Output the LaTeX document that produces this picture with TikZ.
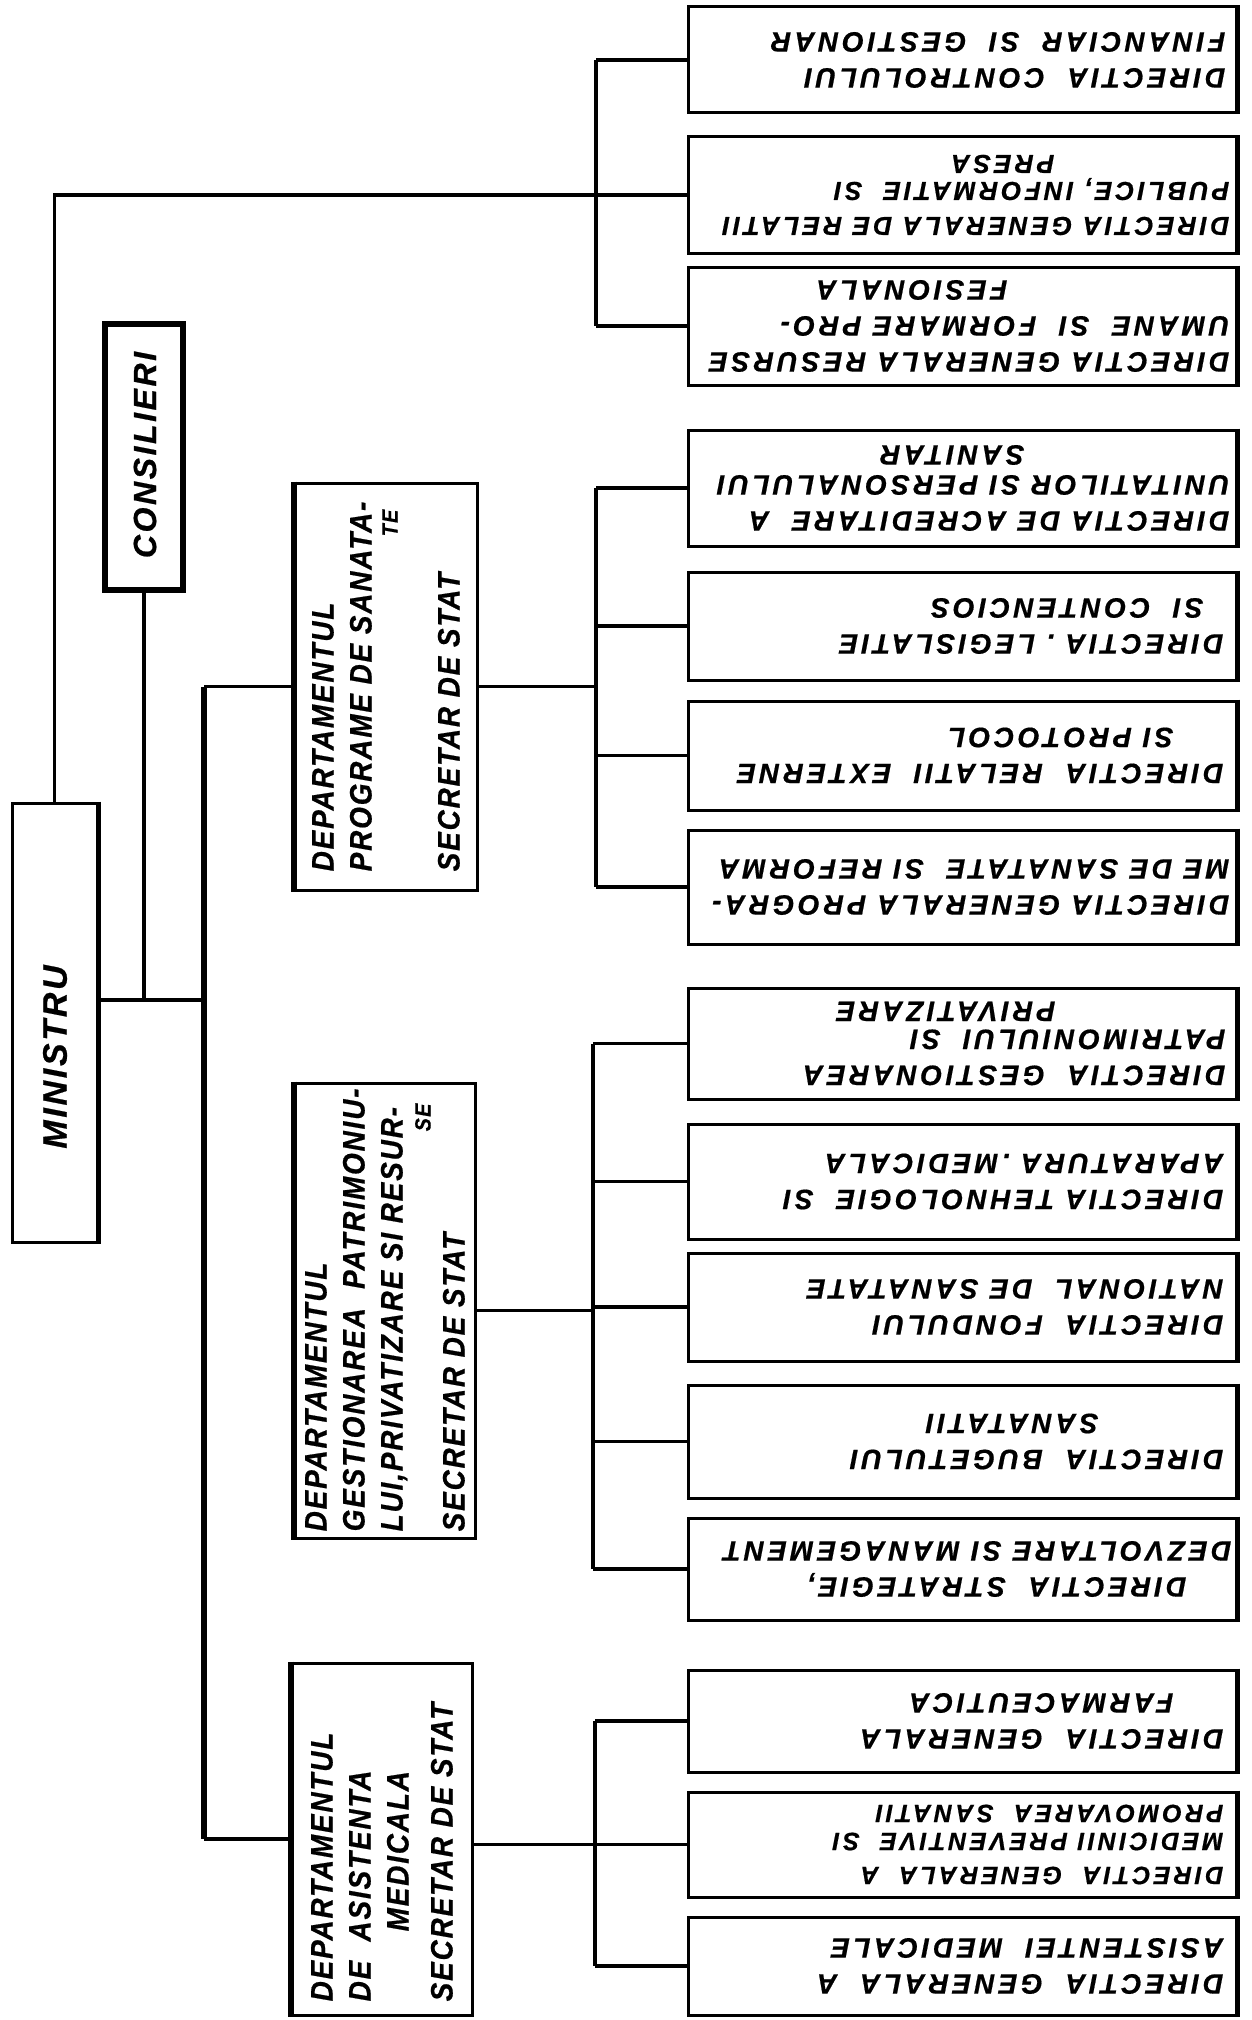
\documentclass[tikz,border=0pt]{standalone}
\usepackage{fontspec}
\setmainfont{Liberation Sans}
\newfontfamily\dirfont[LetterSpace=13,FakeBold=0.6]{Liberation Sans}
\newfontfamily\depfont[FakeStretch=0.9,LetterSpace=6,FakeBold=0.6]{Liberation Sans}
\newfontfamily\minfont[LetterSpace=8,FakeBold=0.6]{Liberation Sans}
\usetikzlibrary{calc}
\begin{document}
\begin{tikzpicture}[x=1pt,y=-1pt,
  box/.style={draw,line width=3pt,inner sep=0pt},
  dirbox/.style={box,minimum width=548pt},
  depbox/.style={box},
  link/.style={line width=3.5pt},
  bus/.style={line width=4.5pt},
  mainbus/.style={line width=6pt},
  heavy/.style={line width=6pt},
  dirtext/.style={font=\dirfont\fontsize{28}{36}\selectfont\bfseries\itshape,align=left,inner sep=0pt,rotate=180,anchor=west},
  deptext/.style={font=\depfont\fontsize{31}{38}\selectfont\bfseries\itshape,align=left,inner sep=0pt,rotate=90,anchor=west},
  bigtext/.style={inner sep=0pt,rotate=90}
]
\fill[white] (0,0) rectangle (1252,2020);
\useasboundingbox (0,0) rectangle (1252,2020);

% ---- directorate boxes
\node[dirbox,minimum height=106pt] (b1) at (962,60) {};
\node[dirbox,minimum height=116pt] (b2) at (962,195) {};
\node[dirbox,minimum height=118pt] (b3) at (962,326) {};
\node[dirbox,minimum height=116pt] (b4) at (962,488) {};
\node[dirbox,minimum height=108pt] (b5) at (962,626) {};
\node[dirbox,minimum height=109pt] (b6) at (962,755.5) {};
\node[dirbox,minimum height=114pt] (b7) at (962,887) {};
\node[dirbox,minimum height=111pt] (b8) at (962,1043.5) {};
\node[dirbox,minimum height=115pt] (b9) at (962,1181.5) {};
\node[dirbox,minimum height=108pt] (b10) at (962,1307) {};
\node[dirbox,minimum height=113pt] (b11) at (962,1441.5) {};
\node[dirbox,minimum height=102pt] (b12) at (962,1569) {};
\node[dirbox,minimum height=102pt] (b13) at (962,1721) {};
\node[dirbox,minimum height=105pt] (b14) at (962,1844.5) {};
\node[dirbox,minimum height=98pt] (b15) at (962,1966) {};
\foreach \b in {b1,b2,b3,b4,b5,b6,b7,b8,b9,b10,b11,b12,b13,b14,b15}
  \draw[line width=5pt] (\b.north east) -- (\b.south east);

% ---- directorate texts (upside down)
\node[dirtext] (t1) at ($(b1.east)+(-12,0)$) {DIRECTIA~~CONTROLULUI\\FINANCIAR~~SI~~GESTIONAR};
\node[dirtext,font=\dirfont\fontsize{26}{35}\selectfont\bfseries\itshape] (t2) at ($(b2.east)+(-8,0)$) {DIRECTIA GENERALA DE RELATII\\PUBLICE,~INFORMATIE~~SI\\[-8pt]\hspace*{175pt}PRESA};
\node[dirtext] (t3) at ($(b3.east)+(-8,0)$) {DIRECTIA~GENERALA~RESURSE\\UMANE~~SI~~FORMARE~PRO-\\\hspace*{222pt}FESIONALA};
\node[dirtext] (t4) at ($(b4.east)+(-8,0)$) {DIRECTIA~DE~ACREDITARE~~A\\UNITATILOR~SI~PERSONALULUI\\[-6pt]\hspace*{205pt}SANITAR};
\node[dirtext] (t5) at ($(b5.east)+(-14,0)$) {DIRECTIA~.~LEGISLATIE\\\hspace*{20pt}SI~~CONTENCIOS};
\node[dirtext] (t6) at ($(b6.east)+(-14,0)$) {DIRECTIA~~RELATII~~EXTERNE\\\hspace*{50pt}SI~PROTOCOL};
\node[dirtext] (t7) at ($(b7.east)+(-8,0)$) {DIRECTIA~GENERALA~PROGRA-\\ME~DE~SANATATE~~SI~REFORMA};
\node[dirtext] (t8) at ($(b8.east)+(-12,0)$) {DIRECTIA~~GESTIONAREA\\PATRIMONIULUI~~SI\\[-8pt]\hspace*{170pt}PRIVATIZARE};
\node[dirtext] (t9) at ($(b9.east)+(-14,0)$) {DIRECTIA~TEHNOLOGIE~~SI\\APARATURA~.MEDICALA};
\node[dirtext] (t10) at ($(b10.east)+(-14,0)$) {DIRECTIA~~FONDULUI\\NATIONAL~~DE~SANATATE};
\node[dirtext] (t11) at ($(b11.east)+(-14,0)$) {DIRECTIA~~BUGETULUI\\\hspace*{125pt}SANATATII};
\node[dirtext] (t12) at ($(b12.east)+(-6,0)$) {\hspace*{45pt}DIRECTIA~~STRATEGIE,\\DEZVOLTARE~SI~MANAGEMENT};
\node[dirtext] (t13) at ($(b13.east)+(-14,0)$) {DIRECTIA~~GENERALA\\\hspace*{50pt}FARMACEUTICA};
\node[dirtext,font=\dirfont\fontsize{25}{28}\selectfont\bfseries\itshape] (t14) at ($(b14.east)+(-14,0)$) {DIRECTIA~~GENERALA~~A\\[6pt]MEDICINII~PREVENTIVE~~SI\\PROMOVAREA~~SANATII};
\node[dirtext] (t15) at ($(b15.east)+(-14,0)$) {DIRECTIA~~GENERALA~~A\\ASISTENTEI~~MEDICALE};

% ---- left column boxes
\node[box,minimum width=85pt,minimum height=439pt] (min) at (54.5,1022.5) {};
\draw[line width=5pt] (min.north east) -- (min.south east);
\node[bigtext,font=\minfont\fontsize{34}{40}\selectfont\bfseries\itshape] (mint) at (55,1057) {MINISTRU};
\node[box,line width=6pt,minimum width=78pt,minimum height=266pt] (cons) at (144,457) {};
\node[bigtext,font=\minfont\fontsize{32}{40}\selectfont\bfseries\itshape] (const) at (145,455) {CONSILIERI};

% ---- department boxes
\node[depbox,minimum width=182pt,minimum height=407pt] (d1) at (386,686.5) {};
\node[depbox,minimum width=180pt,minimum height=455pt] (d2) at (385,1310.5) {};
\node[depbox,minimum width=180pt,minimum height=352pt] (d3) at (382,1839) {};
\foreach \d in {d1,d2,d3}
  \draw[heavy] (\d.north west) -- (\d.south west);

\node[deptext] (dt1) at ($(d1.south)+(0,-20)$) {DEPARTAMENTUL\\PROGRAME~DE~SANATA-\\[-12pt]\hspace*{335pt}{\fontsize{22}{24}\selectfont TE}\\[24pt]SECRETAR~DE~STAT};
\node[deptext] (dt2) at ($(d2.south)+(0,-8)$) {DEPARTAMENTUL\\GESTIONAREA~~PATRIMONIU-\\LUI,PRIVATIZARE~SI~RESUR-\\[-10pt]\hspace*{400pt}{\fontsize{22}{24}\selectfont SE}\\[-4pt]SECRETAR~DE~STAT};
\node[deptext] (dt3) at ($(d3.south)+(0,-15)$) {DEPARTAMENTUL\\DE~~ASISTENTA\\\hspace*{70pt}MEDICALA\\[6pt]SECRETAR~DE~STAT};

% ---- connectors
\coordinate (tb) at (596,0);
\coordinate (lb) at (204,0);
\coordinate (p1) at (596,0);
\coordinate (p2) at (593,0);
\coordinate (p3) at (595,0);
\coordinate (mj) at (204,1000);

\draw[link] (min.north) |- (b2.west);
\draw[bus] (b1.west -| tb) -- (b3.west -| tb);
\draw[link] (b1.west -| tb) -- (b1.west);
\draw[link] (b3.west -| tb) -- (b3.west);

\draw[mainbus] (d1.west -| lb) -- (d3.west -| lb);
\draw[link] (d1.west -| lb) -- (d1.west);
\draw[link] (d3.west -| lb) -- (d3.west);
\draw[link] (mj -| min.east) -- (mj);
\draw[bus] (cons.south) -- (cons.south |- mj);

\draw[bus] (b4.west -| p1) -- (b7.west -| p1);
\draw[link] (d1.east) -- (d1.east -| p1);
\foreach \b in {b4,b5,b6,b7} \draw[link] (\b.west -| p1) -- (\b.west);

\draw[bus] (b8.west -| p2) -- (b12.west -| p2);
\draw[link] (d2.east) -- (d2.east -| p2);
\foreach \b in {b8,b9,b10,b11,b12} \draw[link] (\b.west -| p2) -- (\b.west);

\draw[bus] (b13.west -| p3) -- (b15.west -| p3);
\draw[link] (d3.east |- b14.west) -- (b14.west);
\foreach \b in {b13,b15} \draw[link] (\b.west -| p3) -- (\b.west);
\end{tikzpicture}
\end{document}
